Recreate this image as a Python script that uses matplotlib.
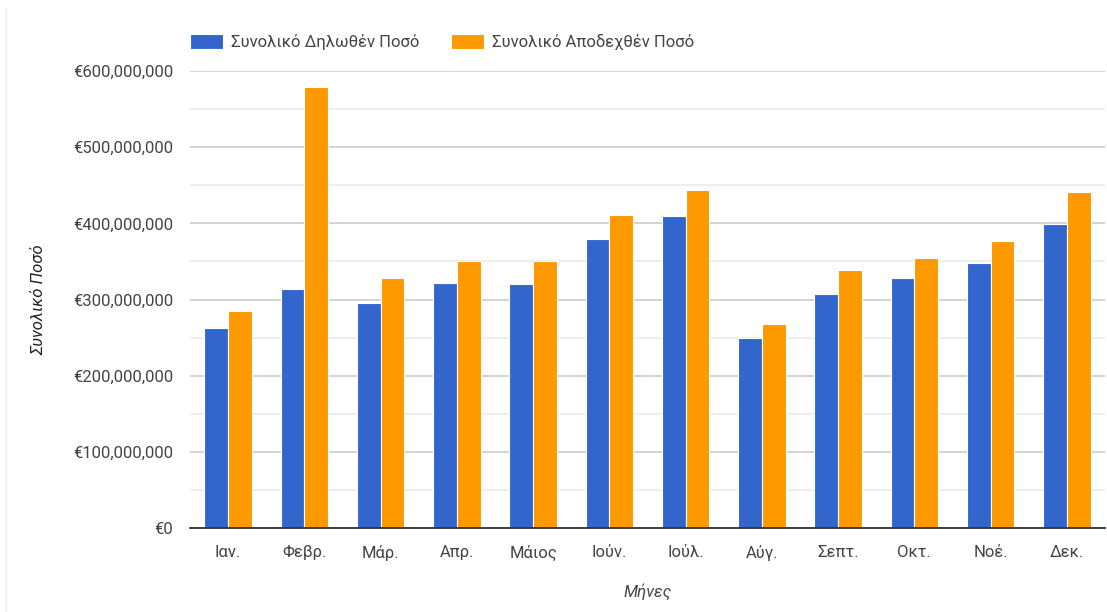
import matplotlib
matplotlib.use("Agg")
import matplotlib.pyplot as plt
import numpy as np
from matplotlib.lines import Line2D
from matplotlib.ticker import FuncFormatter, MultipleLocator

months = ["Ιαν.", "Φεβρ.", "Μάρ.", "Απρ.", "Μάιος", "Ιούν.",
          "Ιούλ.", "Αύγ.", "Σεπτ.", "Οκτ.", "Νοέ.", "Δεκ."]
declared = [262.5e6, 314e6, 295e6, 322e6, 320e6, 379e6,
            409e6, 249e6, 307e6, 328e6, 348e6, 399e6]
accepted = [285e6, 579e6, 328e6, 350.5e6, 350.5e6, 411e6,
            444e6, 268e6, 339e6, 354.5e6, 377e6, 441e6]
series_names = ["Συνολικό Δηλωθέν Ποσό", "Συνολικό Αποδεχθέν Ποσό"]

BLUE = "#3366cc"
ORANGE = "#ff9900"
TEXT = "#444444"

plt.rcParams["font.family"] = ["Roboto", "DejaVu Sans"]

W, H = 1107, 612
fig = plt.figure(figsize=(W / 100, H / 100), dpi=100)
left, right, top, bottom = 190, 1105, 71, 528
ax = fig.add_axes([left / W, 1 - bottom / H, (right - left) / W, (bottom - top) / H])

x = np.arange(len(months))
bw = 0.31
ax.bar(x - bw / 2, declared, bw, color=BLUE, edgecolor="white", linewidth=0.8,
       label=series_names[0], zorder=3)
ax.bar(x + bw / 2, accepted, bw, color=ORANGE, edgecolor="white", linewidth=0.8,
       label=series_names[1], zorder=3)

ax.set_xlim(-0.5, len(months) - 0.5)
ax.set_ylim(0, 600e6)
ax.yaxis.set_major_locator(MultipleLocator(100e6))
ax.yaxis.set_minor_locator(MultipleLocator(50e6))
ax.yaxis.set_major_formatter(FuncFormatter(lambda v, _: f"€{v:,.0f}"))
ax.grid(axis="y", which="major", color="#cccccc", linewidth=1.2, zorder=0)
ax.grid(axis="y", which="minor", color="#ebebeb", linewidth=1.2, zorder=0)
ax.set_axisbelow(True)

for side in ("top", "right", "left"):
    ax.spines[side].set_visible(False)
ax.spines["bottom"].set_color("#333333")
ax.spines["bottom"].set_linewidth(1.3)
ax.spines["bottom"].set_zorder(4)

ax.set_xticks(x)
ax.set_xticklabels(months)
ax.tick_params(axis="both", which="both", length=0, labelsize=12, labelcolor=TEXT)
ax.tick_params(axis="y", pad=12)
ax.tick_params(axis="x", pad=12)

ax.set_xlabel("Μήνες", fontsize=12, style="italic", color=TEXT, labelpad=16)
ax.set_ylabel("Συνολικό Ποσό", fontsize=12, style="italic", color="#222222", labelpad=19)

ax.legend(loc="lower left", bbox_to_anchor=(0.0, 1.045), ncol=2, frameon=False,
          fontsize=12, labelcolor=TEXT, handlelength=2.0, handleheight=1.05,
          handletextpad=0.45, columnspacing=1.9, borderpad=0, borderaxespad=0)

# thin border on the left edge of the canvas
fig.add_artist(Line2D([6 / W, 6 / W], [0, 1 - 8 / H], color="#eeeeee", linewidth=1))

fig.savefig("out.png", dpi=100, facecolor="white")
